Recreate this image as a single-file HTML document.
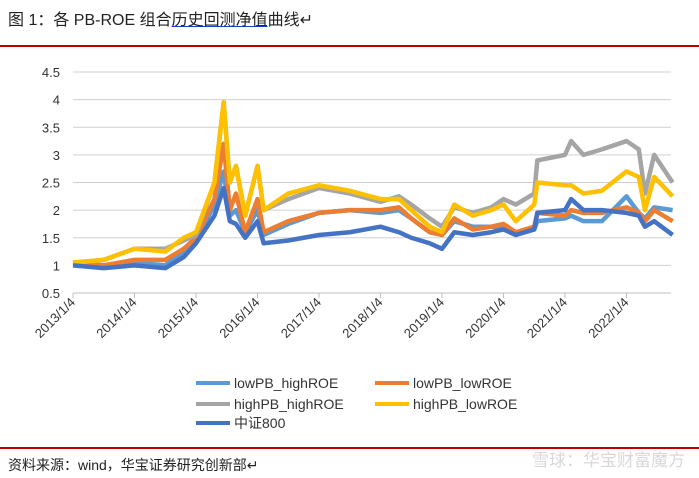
<!DOCTYPE html>
<html><head><meta charset="utf-8">
<style>
body{margin:0;background:#fff;width:699px;height:478px;overflow:hidden;font-family:"Liberation Sans","Noto Sans CJK SC",sans-serif;}
.title{position:absolute;left:8px;top:6px;font-size:16px;color:#222;}
.title u{text-decoration-color:#1a3fd0;}
.rl{position:absolute;left:0;width:699px;height:2px;background:#c00000;}
.src{position:absolute;left:8px;top:455px;font-size:14px;color:#222;}
.wm{position:absolute;right:14px;top:446px;font-size:17px;color:#d8d8d8;}
</style></head><body>
<div class="title">图 1：各 PB-ROE 组合<u>历史回测净值</u>曲线↵</div>
<div class="rl" style="top:45px"></div>
<svg id="chart" width="699" height="478" style="position:absolute;left:0;top:0"></svg>
<div class="rl" style="top:447px"></div>
<div class="src">资料来源：wind，华宝证券研究创新部↵</div>
<div class="wm">雪球：华宝财富魔方</div>
<script>
const dates=[2013.0,2013.5,2014.0,2014.5,2014.8,2015.0,2015.3,2015.45,2015.55,2015.65,2015.8,2016.0,2016.1,2016.5,2017.0,2017.5,2018.0,2018.3,2018.5,2018.8,2019.0,2019.2,2019.5,2019.8,2020.0,2020.2,2020.5,2020.55,2021.0,2021.1,2021.3,2021.6,2022.0,2022.2,2022.3,2022.45,2022.75];
const lowPBhighROE=[1.05,1.0,1.05,1.0,1.25,1.45,2.1,2.7,1.9,2.0,1.6,2.0,1.55,1.75,1.95,2.0,1.95,2.0,1.85,1.6,1.55,1.8,1.7,1.7,1.7,1.6,1.65,1.8,1.85,1.9,1.8,1.8,2.25,1.95,1.85,2.05,2.0];
const lowPBlowROE=[1.05,1.0,1.1,1.1,1.3,1.5,2.2,3.2,2.0,2.3,1.6,2.2,1.6,1.8,1.95,2.0,2.0,2.05,1.85,1.6,1.55,1.85,1.65,1.7,1.75,1.6,1.7,1.95,1.9,2.0,1.95,1.95,2.05,1.95,1.8,2.0,1.8];
const highPBhighROE=[1.05,1.1,1.3,1.3,1.45,1.55,2.5,3.95,2.5,2.8,1.9,2.8,2.0,2.2,2.4,2.3,2.15,2.25,2.1,1.85,1.7,2.05,1.95,2.05,2.2,2.1,2.3,2.9,3.0,3.25,3.0,3.1,3.25,3.1,2.3,3.0,2.5];
const highPBlowROE=[1.05,1.1,1.3,1.25,1.5,1.6,2.5,3.95,2.5,2.8,1.9,2.8,2.0,2.3,2.45,2.35,2.2,2.2,2.0,1.7,1.6,2.1,1.9,2.0,2.1,1.8,2.1,2.5,2.45,2.45,2.3,2.35,2.7,2.6,2.0,2.6,2.25];
const csi800=[1.0,0.95,1.0,0.95,1.15,1.4,1.9,2.4,1.8,1.75,1.5,1.8,1.4,1.45,1.55,1.6,1.7,1.6,1.5,1.4,1.3,1.6,1.55,1.6,1.65,1.55,1.65,1.95,2.0,2.2,2.0,2.0,1.95,1.9,1.7,1.8,1.55];
const yTicks=[0.5,1,1.5,2,2.5,3,3.5,4,4.5];
const xTicks=["2013/1/4","2014/1/4","2015/1/4","2016/1/4","2017/1/4","2018/1/4","2019/1/4","2020/1/4","2021/1/4","2022/1/4"];
const seriesNames=["lowPB_highROE","lowPB_lowROE","highPB_highROE","highPB_lowROE","中证800"];
const NS="http://www.w3.org/2000/svg";
const svg=document.getElementById('chart');
const X0=73,X1=671,Y0=293,Y1=72;
const xs=t=>X0+(t-2013)*61.5;
const ys=v=>Y0-(v-0.5)/4*(Y0-Y1);
function mk(tag,attrs){const e=document.createElementNS(NS,tag);for(const k in attrs)e.setAttribute(k,attrs[k]);svg.appendChild(e);return e;}
yTicks.forEach((v,i)=>{
 if(i>0){const g=mk('line',{x1:X0,x2:X1,y1:ys(v),y2:ys(v),stroke:'#d0d0d0','stroke-width':1});
 
 }
 const t=mk('text',{x:60,y:ys(v)+5,'text-anchor':'end','font-size':13,fill:'#333','font-family':'Liberation Sans'});
 t.textContent=v;
 
 
});
const ax=mk('line',{x1:X0,x2:X1,y1:Y0,y2:Y0,stroke:'#bfbfbf','stroke-width':1});


xTicks.forEach((s,i)=>{
 const x=xs(2013+i);
 const tk=mk('line',{x1:x,x2:x,y1:Y0,y2:Y0+5,stroke:'#bfbfbf'});
 
 
 const t=mk('text',{x:x+3,y:Y0+10,'text-anchor':'end','font-size':13,fill:'#333','font-family':'Liberation Sans',transform:`rotate(-45 ${x+3} ${Y0+10})`});
 t.textContent=s;
 
 
});
const colors=['#5B9BD5','#ED7D31','#A5A5A5','#FFC000','#4472C4'];
const data=[lowPBhighROE,lowPBlowROE,highPBhighROE,highPBlowROE,csi800];
data.forEach((arr,k)=>{
 const p=mk('polyline',{points:arr.map((v,i)=>xs(dates[i])+','+ys(v)).join(' '),fill:'none',stroke:colors[k],'stroke-width':4.5,'stroke-linejoin':'round'});
 
 
});
const lpos=[[196,383],[375,383],[196,404],[375,404],[196,423]];
seriesNames.forEach((n,k)=>{
 const [x,y]=lpos[k];
 const l=mk('line',{x1:x,x2:x+34,y1:y,y2:y,stroke:colors[k],'stroke-width':4});
 
 
 const t=mk('text',{x:x+38,y:y+5,'font-size':14,fill:'#333','font-family':'Liberation Sans, Noto Sans CJK SC, sans-serif'});
 t.textContent=n;
 
 
});
</script>
</body></html>
